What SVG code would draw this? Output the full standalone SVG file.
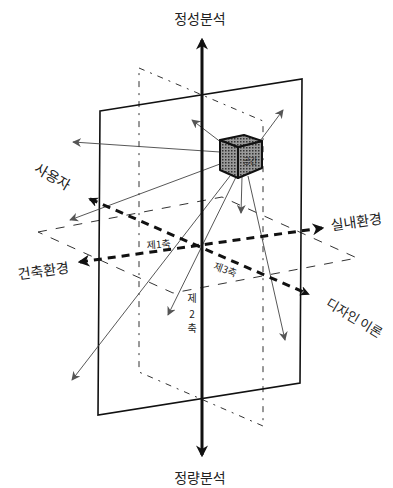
<svg xmlns="http://www.w3.org/2000/svg" width="393" height="488" viewBox="0 0 393 488">
<style>
text{font-family:"Noto Sans CJK KR","Noto Sans",sans-serif;fill:#222}
.lbl{font-size:14px}
.sm{font-size:10px}
.plane{fill:none;stroke:#111;stroke-width:1.6}
.back{fill:none;stroke:#333;stroke-width:1;stroke-dasharray:6 6 2 6}
.hor{fill:none;stroke:#333;stroke-width:1;stroke-dasharray:9 9}
.thin{stroke:#444;stroke-width:0.9;fill:none;marker-end:url(#ah)}
.axis{stroke:#111;stroke-width:3;fill:none}
.dash{stroke:#111;stroke-width:3;fill:none;stroke-dasharray:8 6}
.face{stroke:#111;stroke-width:2;stroke-linejoin:round}
</style>
<defs>
<pattern id="dots" width="3" height="3" patternUnits="userSpaceOnUse">
<rect width="3" height="3" fill="#9a9a9a"/>
<rect width="1.5" height="1.5" fill="#333"/>
</pattern>
<marker id="ah" viewBox="0 0 10 10" refX="9" refY="5" markerWidth="9" markerHeight="9" markerUnits="userSpaceOnUse" orient="auto">
<path d="M0,0 L10,5 L0,10 L3,5 Z" fill="#555"/>
</marker>
<marker id="big" viewBox="0 0 10 10" refX="8" refY="5" markerWidth="12" markerHeight="12" markerUnits="userSpaceOnUse" orient="auto-start-reverse">
<path d="M0,0 L10,5 L0,10 L3,5 Z" fill="#111"/>
</marker>
<marker id="mid" viewBox="0 0 10 10" refX="8" refY="5" markerWidth="10" markerHeight="10" markerUnits="userSpaceOnUse" orient="auto-start-reverse">
<path d="M0,0 L10,5 L0,10 L3,5 Z" fill="#111"/>
</marker>
</defs>
<rect width="393" height="488" fill="#fff"/>
<g id="back-plane"><polygon class="back" points="139,68 263,121 263,426 139,372"/></g>
<g id="horizontal-plane"><polygon class="hor" points="38,232 222,197 357,258 173,293"/></g>
<g id="front-plane"><polygon class="plane" points="100,111 302,79 300,383 98,415"/></g>
<g id="connectors">
<line class="thin" x1="222" y1="143" x2="192" y2="120"/>
<line class="thin" x1="260" y1="141" x2="283" y2="110"/>
<line class="thin" x1="220" y1="152" x2="73" y2="142"/>
<line class="thin" x1="220" y1="164" x2="70" y2="220"/>
<line class="thin" x1="230" y1="176" x2="72" y2="380"/>
<line class="thin" x1="236" y1="177" x2="168" y2="315"/>
<line class="thin" x1="242" y1="177" x2="241" y2="213"/>
<line class="thin" x1="248" y1="176" x2="285" y2="340"/>
<line class="dash" x1="90" y1="199" x2="308" y2="294" marker-start="url(#mid)" marker-end="url(#mid)"/>
<line class="dash" x1="80" y1="262" x2="322" y2="228" marker-start="url(#big)" marker-end="url(#big)"/>
<line class="axis" x1="202" y1="40" x2="202" y2="455" marker-start="url(#big)" marker-end="url(#big)"/>
</g>
<g id="cube">
<polygon class="face" points="220,140 238,147 238,178 220,170" fill="url(#dots)"/>
<polygon class="face" points="238,147 262,141 262,168 238,178" fill="url(#dots)"/>
<polygon class="face" points="220,140 244,135 262,141 238,147" fill="url(#dots)"/>
<text x="250" y="164" font-size="8" text-anchor="middle" style="fill:#222">공간</text>
</g>
<g id="label-top"><text class="lbl" x="200" y="24" text-anchor="middle">정성분석</text></g>
<g id="label-bottom"><text class="lbl" x="200" y="483" text-anchor="middle">정량분석</text></g>
<g id="label-user"><text class="lbl" transform="translate(50,181) rotate(30)" text-anchor="middle" font-size="13">사용자</text></g>
<g id="label-design"><text transform="translate(352,322) rotate(31)" text-anchor="middle" font-size="13">디자인 이론</text></g>
<g id="label-interior"><text class="lbl" transform="translate(357,227) rotate(-8)" text-anchor="middle">실내환경</text></g>
<g id="label-arch"><text class="lbl" transform="translate(44,276) rotate(-8)" text-anchor="middle">건축환경</text></g>
<g id="label-axis1"><text class="sm" transform="translate(159,248) rotate(-5)" text-anchor="middle">제1축</text></g>
<g id="label-axis3"><text class="sm" transform="translate(224,273) rotate(20)" text-anchor="middle">제3축</text></g>
<g id="label-axis2"><text class="sm" x="192" y="302" text-anchor="middle">제</text><text class="sm" x="192" y="318" text-anchor="middle">2</text><text class="sm" x="192" y="332" text-anchor="middle">축</text></g>
</svg>
